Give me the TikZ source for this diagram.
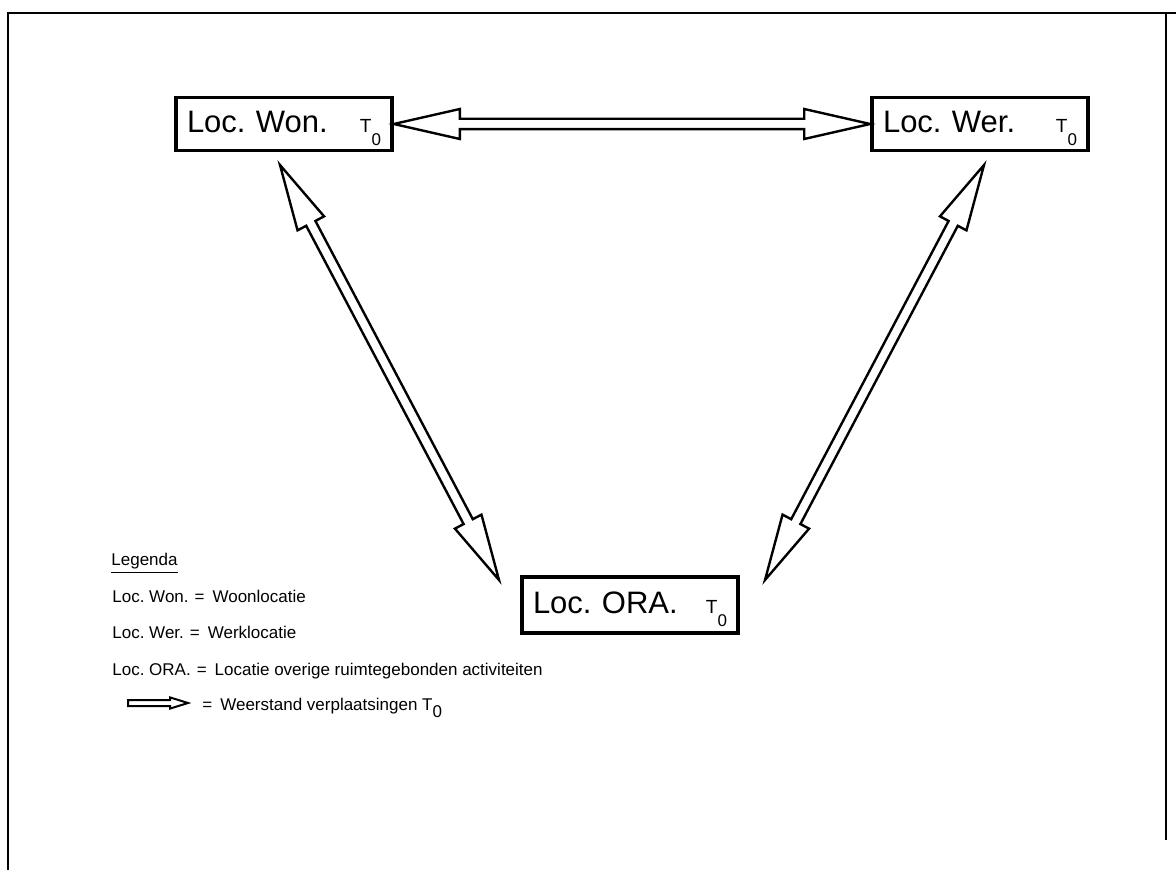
\documentclass[tikz,border=0pt]{standalone}
\usepackage{fontspec}
\setmainfont{Liberation Sans}
\usetikzlibrary{calc}
\frenchspacing

\newcommand{\tnul}{{\fontsize{9.5}{9.5}\selectfont T\raisebox{-6.5pt}{\fontsize{8.5}{8.5}\selectfont 0}}}

\newcommand{\wsarrow}[2]{%
    \path (#1) coordinate (wsp) (#2) coordinate (wsq);
    \path ($(wsp)!33pt!(wsq)$) coordinate (wshp) ($(wsq)!33pt!(wsp)$) coordinate (wshq);
    \draw[blockarrow] (wsp) -- ($(wshp)!7.5pt!90:(wsq)$) -- ($(wshp)!2.6pt!90:(wsq)$)
        -- ($(wshq)!2.6pt!-90:(wsp)$) -- ($(wshq)!7.5pt!-90:(wsp)$) -- (wsq)
        -- ($(wshq)!7.5pt!90:(wsp)$) -- ($(wshq)!2.6pt!90:(wsp)$)
        -- ($(wshp)!2.6pt!-90:(wsq)$) -- ($(wshp)!7.5pt!-90:(wsq)$) -- cycle;
}

\newcommand{\legarrow}[2]{%
    \path (#1) coordinate (lgp) (#2) coordinate (lgq);
    \path ($(lgq)!9pt!(lgp)$) coordinate (lghq);
    \draw[blockarrow, line width=1pt] (lgp) -- ($(lgp)!1.5pt!90:(lgq)$)
        -- ($(lghq)!1.5pt!-90:(lgp)$) -- ($(lghq)!2.8pt!-90:(lgp)$) -- (lgq)
        -- ($(lghq)!2.8pt!90:(lgp)$) -- ($(lghq)!1.5pt!90:(lgp)$)
        -- ($(lgp)!1.5pt!-90:(lgq)$) -- cycle;
}

\begin{document}
\begin{tikzpicture}[x=0.5pt, y=-0.5pt,
    locbox/.style={draw, line width=1.8pt, fill=white, minimum height=26.5pt,
                   text width=97pt, inner xsep=5.5pt, inner ysep=0pt,
                   text height=16pt, text depth=7.5pt,
                   font=\fontsize{15.5}{16}\selectfont},
    blockarrow/.style={draw, line width=1.2pt, fill=white, line join=miter},
    legtext/.style={anchor=base west, inner sep=0pt, font=\fontsize{8.5}{9}\selectfont},
    frame/.style={line width=1.3pt}]
    \useasboundingbox (0,0) rectangle (1176,870);
    \draw[frame] (8,870) -- (8,13) -- (1176,13);
    \draw[frame] (1166,13) -- (1166,840);

    \node[locbox] (won) at (284,124) {Loc. Won.\hfill\tnul};
    \node[locbox] (wer) at (980,124) {Loc. Wer.\hfill\tnul};
    \node[locbox, minimum height=28pt] (ora) at (630,605) {Loc. ORA.\hfill\tnul};

    \coordinate (wontip) at (280,165);
    \coordinate (wertip) at (984,165);
    \coordinate (oraleft) at (499,580);
    \coordinate (oraright) at (765,580);

    \wsarrow{won.east}{wer.west}
    \wsarrow{wontip}{oraleft}
    \wsarrow{wertip}{oraright}

    \node[legtext] (legtitle) at (111,566) {\underline{Legenda}};
    \node[legtext] (legwon) at (112,602) {Loc. Won.\hspace{3pt}=\hspace{4pt}Woonlocatie};
    \node[legtext] (legwer) at (112,638) {Loc. Wer.\hspace{3pt}=\hspace{4pt}Werklocatie};
    \node[legtext] (legora) at (112,675) {Loc. ORA.\hspace{3pt}=\hspace{4pt}Locatie overige ruimtegebonden activiteiten};
    \coordinate (legfrom) at (128,703);
    \coordinate (legto) at (188,703);
    \legarrow{legfrom}{legto}
    \node[legtext] (legres) at (202,710) {=\hspace{4pt}Weerstand verplaatsingen T\raisebox{-3.5pt}{0}};
\end{tikzpicture}
\end{document}
